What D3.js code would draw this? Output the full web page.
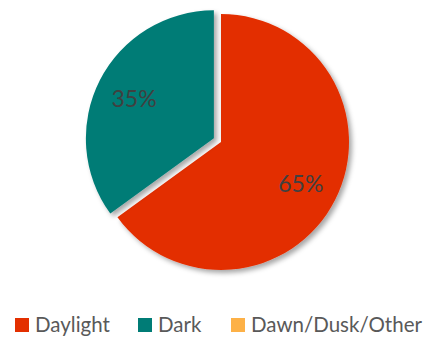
<!DOCTYPE html>
<html>
<head>
<meta charset="utf-8">
<script src="https://cdn.jsdelivr.net/npm/d3@7"></script>
<style>
  body { margin: 0; background: #fff; }
  svg { display: block; font-family: Lato, "Open Sans", sans-serif; }
</style>
</head>
<body>
<div id="chart"></div>
<script>
var categories = ['Daylight', 'Dark', 'Dawn/Dusk/Other'];
var values = [65, 35, 0];
var colors = ['#E32F00', '#007C76', '#FDB147'];
var explode = [0, 8, 0];

var width = 432, height = 337;
var cx = 221, cy = 142, radius = 128;

var svg = d3.select('#chart').append('svg')
    .attr('width', width)
    .attr('height', height);

var defs = svg.append('defs');
var shadow = defs.append('filter').attr('id', 'shadow')
    .attr('x', '-20%').attr('y', '-20%').attr('width', '140%').attr('height', '140%');
shadow.append('feDropShadow')
    .attr('dx', 3).attr('dy', 3).attr('stdDeviation', 2.5)
    .attr('flood-color', '#000').attr('flood-opacity', 0.35);

var data = categories.map(function(c, i) { return {name: c, value: values[i], color: colors[i], off: explode[i]}; });

var pie = d3.pie().sort(null).value(function(d) { return d.value; });
var arc = d3.arc().innerRadius(0).outerRadius(radius);
var labelArc = d3.arc().innerRadius(radius * 0.7).outerRadius(radius * 0.7);

var arcs = pie(data).filter(function(d) { return d.data.value > 0; });

var g = svg.append('g').attr('transform', 'translate(' + cx + ',' + cy + ')');

var slices = g.selectAll('.slice')
    .data(arcs)
    .enter().append('g')
    .attr('class', 'slice')
    .attr('transform', function(d) {
        var a = (d.startAngle + d.endAngle) / 2;
        return 'translate(' + (Math.sin(a) * d.data.off) + ',' + (-Math.cos(a) * d.data.off) + ')';
    });

slices.append('path')
    .attr('d', arc)
    .style('fill', function(d) { return d.data.color; })
    .attr('filter', 'url(#shadow)');

slices.append('text')
    .attr('transform', function(d) { return 'translate(' + labelArc.centroid(d) + ')'; })
    .attr('text-anchor', 'middle')
    .attr('dy', '0.4em')
    .style('font-size', '23px')
    .style('fill', '#404040')
    .text(function(d) { return d.data.value + '%'; });

// legend
var legendX = [15, 138, 231];
var legend = svg.append('g').attr('class', 'legend');
var items = legend.selectAll('g')
    .data(data)
    .enter().append('g')
    .attr('transform', function(d, i) { return 'translate(' + legendX[i] + ',325)'; });
items.append('rect')
    .attr('x', 0).attr('y', -7)
    .attr('width', 14).attr('height', 14)
    .style('fill', function(d) { return d.color; });
items.append('text')
    .attr('x', 20)
    .attr('dy', '0.36em')
    .style('font-size', '20.5px')
    .style('fill', '#595959')
    .text(function(d) { return d.name; });
</script>
</body>
</html>
